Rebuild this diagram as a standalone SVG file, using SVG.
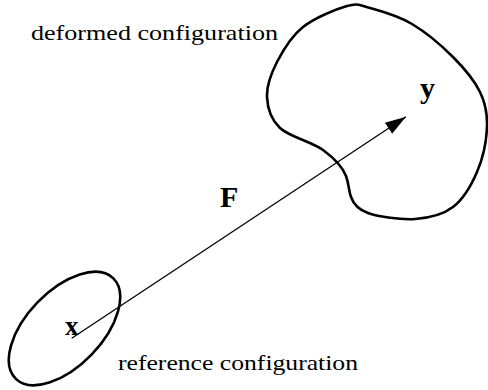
<svg xmlns="http://www.w3.org/2000/svg" width="488" height="390" viewBox="0 0 488 390">
<style>
.shape{fill:none;stroke:#000;stroke-width:2.6;stroke-linejoin:round}
.lbl{font-family:"Liberation Serif","Times New Roman",serif;font-size:22px;fill:#000}
.sym{font-family:"Liberation Serif","Times New Roman",serif;font-weight:bold;font-size:30px;fill:#000}
.conn{fill:none;stroke:#000;stroke-width:1.3}
</style>
<defs>
<marker id="ah" markerUnits="userSpaceOnUse" markerWidth="22" markerHeight="14" refX="21" refY="6.5" orient="auto">
<path d="M0,0 L21,6.5 L0,13 Z" fill="#000"/>
</marker>
</defs>
<rect width="488" height="390" fill="#fff"/>
<g id="deformed">
<path class="shape" d="M347,6 C335.8,9.2 314.7,17.7 303,27 C291.3,36.3 283,50.3 277,62 C271,73.7 266.5,86 267,97 C267.5,108 270.7,119.2 280,128 C289.3,136.8 311.8,141.8 323,150 C334.2,158.2 343,168 346,176 C349,184 348.5,190 351,197 C353.5,204 358,209.5 368,213 C378.7,216.8 400.8,220 415,219 C429.2,218 442.7,214.8 453,207 C463.3,199.2 471.3,185.3 477,172 C482.7,158.7 486.5,140.3 487,127 C487.5,113.7 485.7,103.7 480,92 C474.3,80.3 464.3,68.3 453,57 C441.7,45.7 425.8,32.2 412,24 C398.2,15.8 380.8,11 370,8 C359.2,5 358.2,2.8 347,6 Z"/>
<text class="lbl" x="31" y="39.5" textLength="247" lengthAdjust="spacingAndGlyphs">deformed configuration</text>
<text class="sym" x="420" y="98">y</text>
</g>
<g id="reference">
<ellipse class="shape" cx="64.5" cy="328.5" rx="70" ry="37.6" transform="rotate(-46 64.5 328.5)"/>
<text class="lbl" x="118" y="370" textLength="240" lengthAdjust="spacingAndGlyphs">reference configuration</text>
<text class="sym" x="65" y="335" style="font-size:27px">x</text>
</g>
<g id="connectors">
<line class="conn" x1="71.7" y1="338.3" x2="406" y2="116.7" marker-end="url(#ah)"/>
<text class="sym" x="220" y="206.7">F</text>
</g>
</svg>
